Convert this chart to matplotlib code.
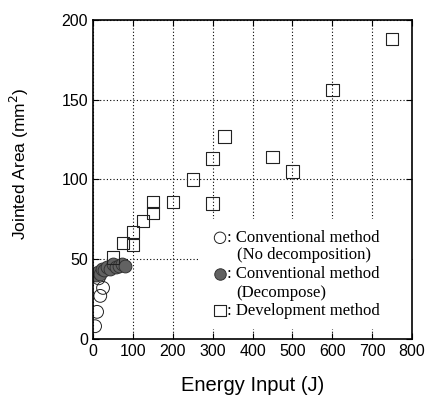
import matplotlib
matplotlib.use("Agg")
import matplotlib.pyplot as plt

# =========================
# DATA
# =========================
open_x = [5, 10, 18, 25, 14]
open_y = [8, 17, 27, 32, 38]

filled_x = [8, 12, 18, 22, 28, 35, 42, 50, 58, 65, 72, 80]
filled_y = [40, 42, 41, 44, 43, 45, 44, 47, 45, 46, 47, 46]

dev_x = [50, 75, 100, 100, 125, 150, 150, 200, 250, 300, 300, 330, 450, 500, 600, 750]
dev_y = [51, 60, 59, 67, 74, 79, 86, 86, 100, 85, 113, 127, 114, 105, 156, 188]

legend_labels = [": Conventional method", "(No decomposition)",
                 ": Conventional method", "(Decompose)",
                 ": Development method"]

# =========================
# PLOT
# =========================
plt.rcParams["font.family"] = "Liberation Sans"

fig = plt.figure(figsize=(4.27, 3.96), dpi=100)
ax = fig.add_axes([0.218, 0.144, 0.747, 0.806])

open_style = dict(s=85, facecolors="none", edgecolors="#222222", linewidths=0.7)
fill_style = dict(s=85, facecolors="#626262", edgecolors="#333333", linewidths=0.7)
sq_style = dict(s=80, marker="s", facecolors="none", edgecolors="#222222", linewidths=0.8)

ax.scatter(open_x, open_y, zorder=3, **open_style)
ax.scatter(filled_x, filled_y, zorder=3, **fill_style)
ax.scatter(dev_x, dev_y, zorder=3, **sq_style)

ax.set_xlim(0, 800)
ax.set_ylim(0, 200)
ax.set_xticks(range(0, 801, 100))
ax.set_yticks(range(0, 201, 50))
ax.grid(True, color="black", linestyle=(0, (1, 2)), linewidth=0.8)
ax.tick_params(direction="in", top=True, right=True, labelsize=11.5, length=4)
for sp in ax.spines.values():
    sp.set_linewidth(1.2)
    sp.set_zorder(5)

ax.set_xlabel("Energy Input (J)", fontsize=14.5, labelpad=12)
ax.set_ylabel("Jointed Area (mm$^2$)", fontsize=12.5)
ax.yaxis.set_label_coords(-0.195, 0.55)

# legend: white block, markers + text
ax.add_patch(plt.Rectangle((0.335, 0.03), 0.665, 0.345, transform=ax.transAxes,
                           facecolor="white", edgecolor="none", zorder=2))
rows_y = [0.317, 0.263, 0.204, 0.144, 0.088]
marker_rows = [(0, open_style), (2, fill_style), (4, sq_style)]
for row, style in marker_rows:
    st = dict(style)
    st["s"] = st["s"] * 0.8
    ax.scatter([0.398], [rows_y[row]], transform=ax.transAxes, zorder=4,
               clip_on=False, **st)
for i, lab in enumerate(legend_labels):
    x0 = 0.42 if i % 2 == 0 else 0.45
    ax.text(x0, rows_y[i], lab, transform=ax.transAxes,
            fontsize=12, family="Liberation Serif", va="center", zorder=4)

fig.savefig("out.png", dpi=100)
